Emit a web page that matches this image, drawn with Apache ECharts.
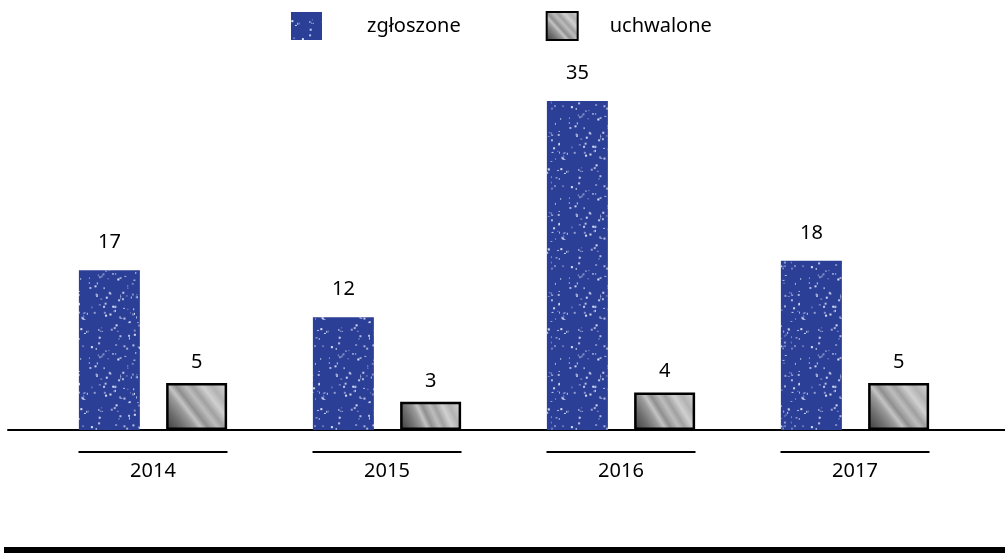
<!DOCTYPE html>
<html>
<head>
<meta charset="utf-8">
<script src="https://cdn.jsdelivr.net/npm/echarts@6/dist/echarts.min.js"></script>
<style>html,body{margin:0;padding:0;background:#fff}#c{width:1005px;height:553px}</style>
</head>
<body>
<div id="c"></div>
<script>
const categories = ['2014', '2015', '2016', '2017'];
const zgloszone = [17, 12, 35, 18];
const uchwalone = [5, 3, 4, 5];
const seriesNames = ['zgłoszone', 'uchwalone'];

// speckled blue texture (deterministic)
function speckle() {
  const c = document.createElement('canvas');
  c.width = 80; c.height = 80;
  const g = c.getContext('2d');
  g.fillStyle = '#2c3f97';
  g.fillRect(0, 0, 80, 80);
  let s = 12345;
  const rnd = () => { s = (s * 1103515245 + 12345) % 2147483648; return s / 2147483648; };
  for (let i = 0; i < 150; i++) {
    const x = rnd() * 80, y = rnd() * 80;
    const a = 0.35 + rnd() * 0.6;
    g.fillStyle = 'rgba(235,240,255,' + a.toFixed(2) + ')';
    const w = 1 + Math.round(rnd() * 1.2), h = 1 + Math.round(rnd() * 1.5);
    g.fillRect(x, y, w, h);
  }
  return c;
}
const blueFill = { image: speckle(), repeat: 'repeat' };
const grayFill = {
  type: 'linear', x: 0, y: 1, x2: 1, y2: 0,
  colorStops: [
    { offset: 0, color: '#3a3a3a' },
    { offset: 0.2, color: '#707070' },
    { offset: 0.32, color: '#9a9a9a' },
    { offset: 0.38, color: '#c4c4c4' },
    { offset: 0.45, color: '#8f8f8f' },
    { offset: 0.55, color: '#bdbdbd' },
    { offset: 0.62, color: '#a0a0a0' },
    { offset: 0.72, color: '#d0d0d0' },
    { offset: 0.82, color: '#b2b2b2' },
    { offset: 1, color: '#dcdcdc' }
  ]
};

const font = '"Noto Sans", "Open Sans", sans-serif';
const chart = echarts.init(document.getElementById('c'), null, { renderer: 'canvas' });
chart.setOption({
  animation: false,
  textStyle: { fontFamily: font },
  legend: {
    top: 6, left: 286,
    icon: 'rect',
    itemWidth: 31, itemHeight: 28, itemGap: 85,
    textStyle: { fontSize: 20, color: '#000' },
    data: [
      { name: seriesNames[0], textStyle: { padding: [0, 0, 0, 40] } },
      { name: seriesNames[1], textStyle: { padding: [0, 0, 0, 27] } }
    ]
  },
  grid: [
    { left: 36, right: 33, top: 54, bottom: 123 },
    { left: 8, right: 0, top: 54, bottom: 123 }
  ],
  xAxis: [
    {
      type: 'category', data: categories, gridIndex: 0,
      axisLine: { show: false }, axisTick: { show: false },
      axisLabel: {
        margin: 21,
        formatter: v => '{ln|}\n{yr|' + v + '}',
        rich: {
          ln: { width: 149, height: 2, backgroundColor: '#000', lineHeight: 2 },
          yr: { fontSize: 20, color: '#000', lineHeight: 36, fontFamily: font }
        }
      }
    },
    {
      type: 'value', gridIndex: 1, min: 0, max: 1,
      axisLine: { show: true, onZero: false, lineStyle: { color: '#000', width: 2 } },
      axisTick: { show: false }, axisLabel: { show: false }, splitLine: { show: false }
    }
  ],
  yAxis: [
    { type: 'value', gridIndex: 0, min: 0, max: 40, show: false, splitLine: { show: false } },
    { type: 'value', gridIndex: 1, min: 0, max: 1, show: false, splitLine: { show: false } }
  ],
  series: [
    {
      name: seriesNames[0], type: 'bar', data: zgloszone,
      barWidth: 61, barGap: '43%',
      itemStyle: { color: blueFill },
      label: { show: true, position: 'top', distance: 18, fontSize: 20, color: '#000', fontFamily: font }
    },
    {
      name: seriesNames[1], type: 'bar', data: uchwalone,
      barWidth: 61, barGap: '43%',
      itemStyle: { color: grayFill, borderColor: '#000', borderWidth: 2.5 },
      label: { show: true, position: 'top', distance: 11, fontSize: 20, color: '#000', fontFamily: font }
    }
  ],
  graphic: [
    { type: 'rect', left: 4, bottom: 0, shape: { width: 1001, height: 6 }, style: { fill: '#000' } }
  ]
});
</script>
</body>
</html>
